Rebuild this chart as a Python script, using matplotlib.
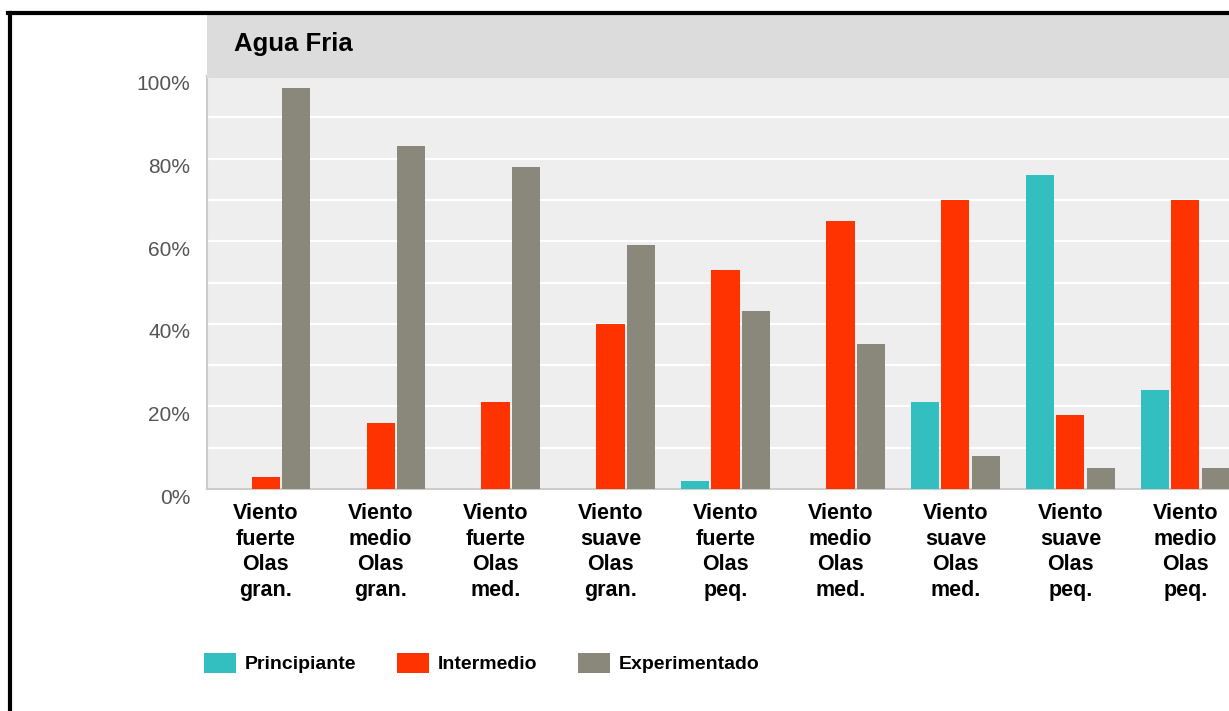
import matplotlib
matplotlib.use('Agg')
import matplotlib.pyplot as plt
import matplotlib.transforms as mtransforms
from matplotlib.lines import Line2D
from matplotlib.patches import Rectangle, Patch
import numpy as np

# data (percent of surfers)
categories = ['Viento\nfuerte\nOlas\ngran.', 'Viento\nmedio\nOlas\ngran.',
              'Viento\nfuerte\nOlas\nmed.', 'Viento\nsuave\nOlas\ngran.',
              'Viento\nfuerte\nOlas\npeq.', 'Viento\nmedio\nOlas\nmed.',
              'Viento\nsuave\nOlas\nmed.', 'Viento\nsuave\nOlas\npeq.',
              'Viento\nmedio\nOlas\npeq.']
principiante = [0, 0, 0, 0, 2, 0, 21, 76, 24]
intermedio = [3, 16, 21, 40, 53, 65, 70, 18, 70]
experimentado = [97, 83, 78, 59, 43, 35, 8, 5, 5]
series_names = ['Principiante', 'Intermedio', 'Experimentado']
colors = ['#33bec0', '#ff3300', '#8a887a']
yticks = [0, 20, 40, 60, 80, 100]
title = 'Agua Fria'

W, H = 1229, 711
fig = plt.figure(figsize=(W / 100, H / 100), dpi=100)

# title bar
fig.patches.append(Rectangle((207 / W, 1 - 78 / H), 1 - 207 / W, 63 / H,
                             transform=fig.transFigure, facecolor='#dcdcdc',
                             edgecolor='none', zorder=0))
fig.text(234 / W, 1 - 44 / H, title, fontsize=18.5, fontweight='bold',
         family='Liberation Sans', va='center', ha='left')

# black frame on top and left
fig.add_artist(Line2D([8 / W, 1], [1 - 12.5 / H, 1 - 12.5 / H],
                      transform=fig.transFigure, color='black', lw=3))
fig.add_artist(Line2D([10 / W, 10 / W], [0, 1 - 12.5 / H],
                      transform=fig.transFigure, color='black', lw=3))

ax = fig.add_axes([207 / W, 1 - 489 / H, 1 - 207 / W, 413 / H])
ax.set_facecolor('#eeeeee')

x = np.arange(len(categories))
pitch = 0.265
width = 0.245
for k, (vals, c) in enumerate(zip([principiante, intermedio, experimentado], colors)):
    ax.bar(x + (k - 1) * pitch, vals, width=width, color=c, zorder=3)

ax.set_xlim(-0.51, 8.38)
ax.set_ylim(0, 100)
ax.set_yticks(yticks)
ax.set_yticks(np.arange(10, 100, 10), minor=True)
ax.set_yticklabels(['%d%%' % v for v in yticks], fontsize=15,
                   color='#555555', family='Liberation Sans')
ax.yaxis.grid(True, which='both', color='white', lw=1.6, zorder=1)
ax.set_axisbelow(True)
ax.tick_params(axis='y', which='both', length=0, pad=12)

ax.set_xticks(x)
ax.set_xticklabels(categories, fontsize=15.5, fontweight='bold',
                   family='Liberation Sans', linespacing=1.3)
ax.tick_params(axis='x', length=0, pad=10)

for s in ['top', 'right']:
    ax.spines[s].set_visible(False)
for s in ['left', 'bottom']:
    ax.spines[s].set_color('#cccccc')
    ax.spines[s].set_linewidth(1.5)

offset = mtransforms.ScaledTranslation(0, -7 / 100, fig.dpi_scale_trans)
for lbl in ax.get_yticklabels():
    lbl.set_transform(lbl.get_transform() + offset)

handles = [Patch(facecolor=c, edgecolor='none', label=n)
           for n, c in zip(series_names, colors)]
fig.legend(handles=handles, ncol=3, loc='center left',
           bbox_to_anchor=(204 / W, 1 - 663 / H), frameon=False,
           prop={'family': 'Liberation Sans', 'weight': 'bold', 'size': 14},
           handlelength=1.65, handleheight=1.2, handletextpad=0.45,
           columnspacing=2.1, borderpad=0, borderaxespad=0)

fig.savefig('out.png', dpi=100, facecolor='white')
